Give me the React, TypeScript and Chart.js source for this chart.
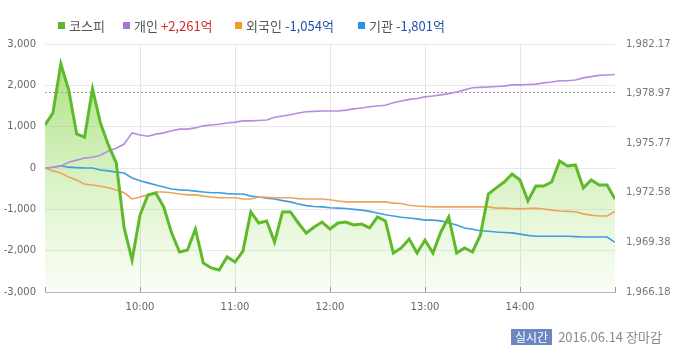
import React, { useEffect, useRef } from "react";
import { Chart, registerables } from "chart.js";

Chart.register(...registerables);

// minutes after 09:00, 5-minute steps
const TIMES: number[] = Array.from({ length: 73 }, (_, i) => i * 5);

const KOSPI: number[] = [
  1976.95, 1977.72, 1980.88, 1979.2, 1976.37, 1976.17, 1979.27, 1977.08, 1975.66, 1974.5,
  1970.31, 1968.24, 1971.14, 1972.43, 1972.56, 1971.66, 1969.98, 1968.76, 1968.89, 1970.24,
  1968.05, 1967.73, 1967.6, 1968.44, 1968.11, 1968.82, 1971.34, 1970.63, 1970.76, 1969.4,
  1971.34, 1971.34, 1970.63, 1969.98, 1970.37, 1970.69, 1970.24, 1970.63, 1970.69, 1970.5,
  1970.56, 1970.31, 1971.02, 1970.76, 1968.69, 1969.02, 1969.6, 1968.69, 1969.53, 1968.69,
  1970.05, 1971.02, 1968.69, 1969.02, 1968.76, 1969.86, 1972.5, 1972.89, 1973.27, 1973.79,
  1973.4, 1972.05, 1973.01, 1973.01, 1973.27, 1974.63, 1974.3, 1974.37, 1972.89, 1973.4,
  1973.08, 1973.08, 1972.18,
];

const INDIVIDUAL: number[] = [
  0, 20, 50, 140, 190, 240, 260, 310, 410, 480,
  580, 850, 800, 770, 820, 850, 900, 940, 940, 970,
  1020, 1040, 1060, 1090, 1110, 1140, 1140, 1150, 1160, 1230,
  1260, 1290, 1330, 1360, 1370, 1380, 1380, 1380, 1400, 1430,
  1450, 1480, 1500, 1520, 1580, 1620, 1660, 1680, 1720, 1740,
  1770, 1800, 1840, 1890, 1940, 1950, 1960, 1970, 1980, 2010,
  2010, 2020, 2030, 2060, 2080, 2110, 2110, 2130, 2180, 2210,
  2240, 2250, 2261,
];

const FOREIGN: number[] = [
  0, -70, -120, -220, -290, -390, -410, -440, -480, -530,
  -600, -750, -700, -650, -580, -580, -600, -630, -650, -650,
  -680, -700, -720, -720, -720, -750, -750, -700, -710, -720,
  -720, -720, -740, -750, -750, -750, -770, -800, -820, -820,
  -820, -820, -820, -820, -850, -860, -900, -920, -930, -940,
  -940, -940, -940, -940, -940, -940, -940, -970, -970, -980,
  -990, -980, -970, -990, -1020, -1040, -1050, -1060, -1110, -1140,
  -1160, -1160, -1054,
];

const INSTITUTION: number[] = [
  0, 20, 50, 20, 10, 0, 0, -50, -70, -100,
  -120, -240, -310, -360, -410, -460, -510, -530, -540, -560,
  -580, -600, -600, -620, -630, -630, -680, -700, -730, -750,
  -790, -820, -870, -910, -930, -940, -960, -970, -980, -1000,
  -1020, -1050, -1090, -1130, -1160, -1190, -1210, -1230, -1260, -1260,
  -1280, -1330, -1380, -1450, -1480, -1520, -1530, -1550, -1560, -1570,
  -1600, -1630, -1650, -1650, -1650, -1650, -1650, -1660, -1670, -1670,
  -1670, -1670, -1801,
];

const LEFT_TICKS: number[] = [-3000, -2000, -1000, 0, 1000, 2000, 3000];
const RIGHT_TICKS: number[] = [1966.18, 1969.38, 1972.58, 1975.77, 1978.97, 1982.17];
const PREV_CLOSE = 1979.06;

const LEGEND = [
  { label: "코스피", value: "", color: "#5cb82a", valueColor: "" },
  { label: "개인", value: "+2,261억", color: "#a675d6", valueColor: "#d22b2b" },
  { label: "외국인", value: "-1,054억", color: "#f39a2e", valueColor: "#2350ae" },
  { label: "기관", value: "-1,801억", color: "#2b93e0", valueColor: "#2350ae" },
];
const LEGEND_X = [58, 123, 235, 358];

const TICK_FONT = { family: "'DejaVu Sans', sans-serif", size: 10 };

const fmtInt = (v: number) => v.toLocaleString("en-US");
const fmt2 = (v: number) =>
  v.toLocaleString("en-US", { minimumFractionDigits: 2, maximumFractionDigits: 2 });

const pts = (arr: number[]) => arr.map((y, i) => ({ x: TIMES[i], y }));

export default function App() {
  const ref = useRef<HTMLCanvasElement | null>(null);

  useEffect(() => {
    if (!ref.current) return;

    const extras = {
      id: "extras",
      beforeDatasetsDraw(chart: any) {
        const { ctx, chartArea } = chart;
        const y2 = chart.scales.y2;
        const yy = Math.round(y2.getPixelForValue(PREV_CLOSE)) + 0.5;
        ctx.save();
        ctx.strokeStyle = "#a0a0a0";
        ctx.lineWidth = 1;
        ctx.setLineDash([2, 2]);
        ctx.beginPath();
        ctx.moveTo(chartArea.left, yy);
        ctx.lineTo(chartArea.right, yy);
        ctx.stroke();
        ctx.restore();
      },
      afterDraw(chart: any) {
        const { ctx, chartArea } = chart;
        const xs = chart.scales.x;
        ctx.save();
        ctx.strokeStyle = "#9a9a9a";
        ctx.lineWidth = 1;
        for (let m = 0; m <= 360; m += 60) {
          const px = Math.round(xs.getPixelForValue(m)) + 0.5;
          ctx.beginPath();
          ctx.moveTo(px, chartArea.bottom - 5);
          ctx.lineTo(px, chartArea.bottom);
          ctx.stroke();
        }
        ctx.restore();
      },
    };

    const chart = new Chart(ref.current, {
      type: "line",
      data: {
        datasets: [
          {
            label: "코스피",
            data: pts(KOSPI),
            yAxisID: "y2",
            borderColor: "#5fba2a",
            borderWidth: 3,
            pointRadius: 0,
            tension: 0,
            fill: "start",
            backgroundColor: (c: any) => {
              const { chart: ch } = c;
              const area = ch.chartArea;
              if (!area) return "rgba(140,215,80,0.4)";
              const g = ch.ctx.createLinearGradient(0, area.top, 0, area.bottom);
              g.addColorStop(0, "rgba(135,212,75,0.75)");
              g.addColorStop(0.5, "rgba(150,220,95,0.4)");
              g.addColorStop(1, "rgba(170,228,120,0.06)");
              return g;
            },
          },
          {
            label: "개인",
            data: pts(INDIVIDUAL),
            yAxisID: "y",
            borderColor: "#b48ee0",
            borderWidth: 1.6,
            pointRadius: 0,
            tension: 0,
            fill: false,
          },
          {
            label: "외국인",
            data: pts(FOREIGN),
            yAxisID: "y",
            borderColor: "#f0a358",
            borderWidth: 1.6,
            pointRadius: 0,
            tension: 0,
            fill: false,
          },
          {
            label: "기관",
            data: pts(INSTITUTION),
            yAxisID: "y",
            borderColor: "#3d9fe0",
            borderWidth: 1.6,
            pointRadius: 0,
            tension: 0,
            fill: false,
          },
        ],
      },
      options: {
        animation: false,
        responsive: false,
        maintainAspectRatio: false,
        layout: { padding: { top: 44, left: 0, right: 0, bottom: 0 } },
        plugins: {
          legend: { display: false },
          tooltip: { enabled: false },
          filler: { drawTime: "beforeDatasetsDraw" },
        } as any,
        scales: {
          x: {
            type: "linear",
            min: 0,
            max: 360,
            afterFit: (s: any) => {
              s.height = 70;
            },
            afterBuildTicks: (s: any) => {
              s.ticks = [0, 60, 120, 180, 240, 300, 360].map((v) => ({ value: v }));
            },
            ticks: {
              autoSkip: false,
              maxRotation: 0,
              padding: 9,
              color: "#666",
              font: TICK_FONT,
              callback: (v: any) => {
                const n = Number(v);
                if (n <= 0 || n >= 360) return "";
                return `${9 + n / 60}:00`;
              },
            },
            grid: {
              drawTicks: false,
              color: (c: any) => {
                const v = c.tick ? c.tick.value : 0;
                return v <= 0 || v >= 360 ? "rgba(0,0,0,0)" : "#e4e4e4";
              },
            },
            border: { display: true, color: "#b5b5b5" },
          },
          y: {
            position: "left",
            min: -3000,
            max: 3000,
            afterFit: (s: any) => {
              s.width = 45;
            },
            afterBuildTicks: (s: any) => {
              s.ticks = LEFT_TICKS.map((v) => ({ value: v }));
            },
            ticks: {
              padding: 9,
              color: "#666",
              font: TICK_FONT,
              callback: (v: any) => fmtInt(Number(v)),
            },
            grid: { drawTicks: false, color: "#e8e8e8" },
            border: { display: false },
          },
          y2: {
            position: "right",
            min: RIGHT_TICKS[0],
            max: RIGHT_TICKS[RIGHT_TICKS.length - 1],
            afterFit: (s: any) => {
              s.width = 85;
            },
            afterBuildTicks: (s: any) => {
              s.ticks = RIGHT_TICKS.map((v) => ({ value: v }));
            },
            ticks: {
              padding: 11,
              color: "#777",
              font: TICK_FONT,
              callback: (v: any) => fmt2(Number(v)),
            },
            grid: { display: false, drawTicks: false },
            border: { display: false },
          },
        },
      } as any,
      plugins: [extras],
    });

    return () => chart.destroy();
  }, []);

  const kfont = "'Noto Sans CJK KR', 'Noto Sans', sans-serif";

  return (
    <div
      style={{
        position: "absolute",
        left: 0,
        top: 0,
        width: 700,
        height: 362,
        background: "#fff",
        overflow: "hidden",
      }}
    >
      <canvas ref={ref} width={700} height={362} style={{ position: "absolute", left: 0, top: 0 }} />
      {LEGEND.map((it, i) => (
        <div
          key={it.label}
          style={{
            position: "absolute",
            left: LEGEND_X[i],
            top: 16,
            height: 18,
            display: "flex",
            alignItems: "center",
            fontFamily: kfont,
            fontSize: 13,
            color: "#555",
            whiteSpace: "nowrap",
          }}
        >
          <span style={{ display: "inline-block", width: 7, height: 7, background: it.color, marginRight: 4 }} />
          <span>{it.label}</span>
          {it.value && <span style={{ color: it.valueColor, marginLeft: 3 }}>{it.value}</span>}
        </div>
      ))}
      <div
        style={{
          position: "absolute",
          left: 511,
          top: 328,
          height: 17,
          display: "flex",
          alignItems: "center",
          fontFamily: kfont,
          whiteSpace: "nowrap",
        }}
      >
        <span
          style={{
            background: "#6b86c2",
            color: "#fff",
            fontSize: 12,
            lineHeight: "16px",
            padding: "0 4px",
            height: 16,
            display: "inline-block",
          }}
        >
          실시간
        </span>
        <span style={{ color: "#8a8a8a", fontSize: 13, marginLeft: 6 }}>2016.06.14 장마감</span>
      </div>
    </div>
  );
}
